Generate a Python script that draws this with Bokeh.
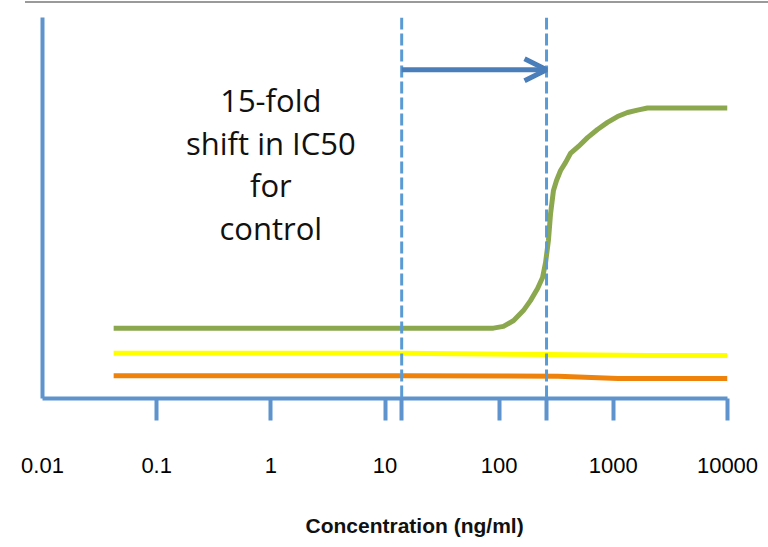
from bokeh.plotting import figure
from bokeh.models import Range1d, FixedTicker, LogAxis, Arrow, OpenHead, Label, Title, InlineStyleSheet
from bokeh.embed import file_html
from bokeh.resources import INLINE

# ---- data ----
tick_values = [0.1, 1, 10, 100, 1000, 10000]
label_values = [0.01, 0.1, 1, 10, 100, 1000, 10000]
tick_labels = ["0.01", "0.1", "1", "10", "100", "1000", "10000"]

green_conc = [0.042, 89, 109, 134, 163, 188, 217, 240, 255, 270, 282, 299, 318, 345,
              381, 421, 495, 594, 726, 889, 1087, 1330, 1627, 1990, 10000]
green_resp = [24.0, 24.0, 24.6, 26.6, 30.0, 33.4, 37.5, 41.3, 46.4, 53.9, 63.1, 71.0, 74.4, 77.8,
              80.5, 83.6, 86.0, 89.0, 91.8, 94.2, 96.2, 97.6, 98.4, 99.1, 99.1]

yellow_conc = [0.042, 14, 270, 2000, 10000]
yellow_resp = [15.4, 15.4, 15.0, 14.7, 14.7]

orange_conc = [0.042, 14, 330, 1100, 10000]
orange_resp = [7.8, 7.8, 7.6, 6.8, 6.8]

ic50_control = [14.0, 260.0]
shift_text = "15-fold\nshift in IC50\nfor\ncontrol"
x_title = "Concentration (ng/ml)"

AXIS_BLUE = "#5F93CE"
DASH_BLUE = "#5B9BD5"
ARROW_BLUE = "#4A7EBB"
SANS = "'Liberation Sans', Arial, sans-serif"

p = figure(x_axis_type="log", x_range=Range1d(0.01, 10000), y_range=Range1d(0, 130),
           frame_width=685, frame_height=381, output_backend="svg", toolbar_location=None,
           min_border_left=42, min_border_right=41, min_border_top=17, min_border_bottom=0)
p.xgrid.visible = False
p.ygrid.visible = False
p.outline_line_color = None
# grey edge of the slide box above the chart
p.stylesheets = [InlineStyleSheet(css=":host::before { content: ''; position: absolute; "
                                      "left: 25px; right: 0px; top: 1px; height: 2px; "
                                      "background: #9a9a9a; z-index: 5; }")]

# x axis line + ticks (no labels); IC50 markers continue below the axis
ax1 = p.xaxis[0]
ax1.ticker = FixedTicker(ticks=tick_values + ic50_control)
ax1.axis_line_color = AXIS_BLUE
ax1.axis_line_width = 4
ax1.major_tick_line_color = AXIS_BLUE
ax1.major_tick_line_width = 4
ax1.major_tick_out = 22
ax1.major_tick_in = 0
ax1.minor_tick_line_color = None
ax1.major_label_overrides = {v: "" for v in tick_values + ic50_control}
ax1.major_label_standoff = 0

# tick labels axis
ax2 = LogAxis(ticker=FixedTicker(ticks=label_values),
              major_label_overrides=dict(zip(label_values, tick_labels)),
              axis_line_color=None, major_tick_line_color=None, minor_tick_line_color=None,
              major_label_text_font=SANS, major_label_text_font_size="22px",
              major_label_text_color="#000000", major_label_standoff=31)
p.add_layout(ax2, "below")

# y axis line only
ay = p.yaxis[0]
ay.ticker = FixedTicker(ticks=[0])
ay.major_label_overrides = {0: ""}
ay.axis_line_color = AXIS_BLUE
ay.axis_line_width = 4
ay.major_tick_line_color = None
ay.minor_tick_line_color = None

# curves
p.line(orange_conc, orange_resp, line_color="#EE820A", line_width=5)
p.line(yellow_conc, yellow_resp, line_color="#FFFF00", line_width=5)
p.line(green_conc, green_resp, line_color="#8BA84F", line_width=5, line_join="round")

# dashed IC50 markers
for c in ic50_control:
    p.add_layout(Arrow(end=None, x_start=c, x_end=c, y_start=130, y_end=0,
                       line_color=DASH_BLUE, line_width=3, line_dash="12 4"))

# shift arrow
p.add_layout(Arrow(end=OpenHead(size=22, line_width=5, line_color=ARROW_BLUE),
                   x_start=ic50_control[0], x_end=ic50_control[1], y_start=112.2, y_end=112.2,
                   line_color=ARROW_BLUE, line_width=5))

p.add_layout(Label(x=1, y=80, text=shift_text, text_align="center", text_baseline="middle",
                   text_font="Open Sans", text_font_size="31px", text_line_height=1.02,
                   text_color="#111111"))

p.add_layout(Title(text=x_title, align="left", offset=263, text_font=SANS,
                   text_font_size="21px", text_font_style="bold", text_color="#111111",
                   standoff=72), "below")

open("out.html", "w").write(file_html(p, INLINE))
